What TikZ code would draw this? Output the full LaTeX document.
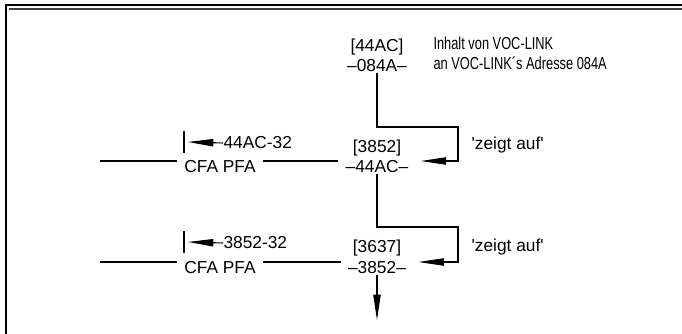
\documentclass[tikz,border=0pt]{standalone}
\usepackage{fontspec}
\setmainfont{Liberation Sans}
\newfontfamily\descfont[FakeStretch=0.74]{Liberation Sans}
\usetikzlibrary{arrows.meta}

\begin{document}
\begin{tikzpicture}[
        x=0.75pt, y=-0.75pt,
        line width=0.8pt,
        ptr/.style={-{Triangle[length=19pt,width=5.5pt]}},
        addr/.style={inner xsep=5pt, inner ysep=0pt, font=\fontsize{13}{13}\selectfont},
        note/.style={inner sep=0pt, anchor=west, font=\fontsize{13}{13}\selectfont}
    ]
    \useasboundingbox (0,0) rectangle (682,334);

    % Rahmen
    \draw[line width=1.5pt] (6,334) -- (6,5) -- (682,5);
    \draw[line width=1.5pt, darkgray] (9,9) -- (682,9);

    % 1. VOC-LINK (Adresse 084A)
    \node[addr] (cont0) at (377,47) {[44AC]};
    \node[addr] (adr0) at (377,66) {--084A--};
    \node[note, align=left, font=\fontsize{13}{15}\descfont] (info) at (433,53) {
        Inhalt von VOC-LINK\\
        an VOC-LINK´s Adresse 084A
    };

    % 2. Wort bei 44AC
    \node[addr] (cont1) at (377,148) {[3852]};
    \node[addr] (adr1) at (377,167) {--44AC--};
    \node[addr] (cfa1) at (220,167) {CFA PFA};
    \node[note] (off1) at (223,143) {44AC-32};
    \node[note] (zeigt1) at (471,145) {\textquotesingle zeigt auf\textquotesingle};
    \coordinate (start1) at (100,161);
    \coordinate (bar1) at (184,142);
    \coordinate (turn1) at (458,127);

    % 3. Wort bei 3852
    \node[addr] (cont2) at (377,248) {[3637]};
    \node[addr] (adr2) at (377,268) {--3852--};
    \node[addr] (cfa2) at (220,268) {CFA PFA};
    \node[note] (off2) at (223,243) {3852-32};
    \node[note] (zeigt2) at (471,247) {\textquotesingle zeigt auf\textquotesingle};
    \coordinate (start2) at (100,262);
    \coordinate (bar2) at (184,242);
    \coordinate (turn2) at (458,227);
    \coordinate (ende) at (377,320);

    % --- Verbindungen ---
    \draw (start1) -- (start1 -| cfa1.west);
    \draw (start1 -| cfa1.east) -- (start1 -| adr1.west);
    \draw ([yshift=8pt]bar1) -- ([yshift=-8pt]bar1);
    \draw[ptr] (off1.west) -- ([xshift=3pt]bar1);
    \draw[ptr] (adr0.south) |- (turn1) |- ([xshift=4pt]adr1.east |- start1);

    \draw (start2) -- (start2 -| cfa2.west);
    \draw (start2 -| cfa2.east) -- (start2 -| adr2.west);
    \draw ([yshift=8pt]bar2) -- ([yshift=-8pt]bar2);
    \draw[ptr] (off2.west) -- ([xshift=3pt]bar2);
    \draw[ptr] (adr1.south) |- (turn2) |- ([xshift=4pt]adr2.east |- start2);

    \draw[ptr] (adr2.south) -- (ende);

\end{tikzpicture}
\end{document}
